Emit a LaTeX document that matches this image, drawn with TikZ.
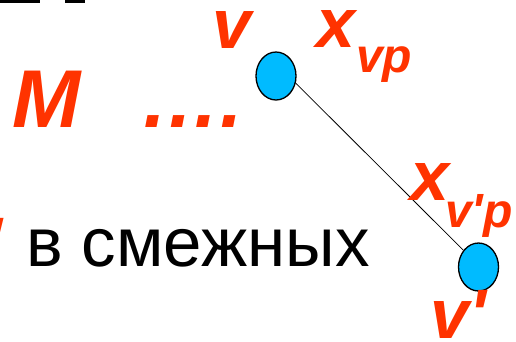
\documentclass[tikz,border=0pt]{standalone}
\usepackage{fontspec}
\setmainfont{Liberation Sans}
\newfontfamily\lblfont{Liberation Sans}
\usetikzlibrary{shapes.geometric}
\definecolor{lblred}{RGB}{255,51,0}
\definecolor{nodeblue}{RGB}{0,187,255}
\begin{document}
\begin{tikzpicture}[x=1pt,y=-1pt,
  vert/.style={draw=black,line width=1.3pt,fill=nodeblue,ellipse,minimum width=40pt,minimum height=48pt,inner sep=0pt},
  lbl/.style={text=lblred,inner sep=0pt,anchor=base west},
  edge/.style={draw=black,line width=0.8pt}]
\useasboundingbox (0,0) rectangle (516,341);
\clip (0,0) rectangle (516,341);
\fill[black] (0,0) rectangle (40,2.5);
\fill[black] (65,0) rectangle (85,2.5);
\node[vert] (v) at (276,76) {};
\node[vert] (vp) at (478.5,267) {};
\draw[edge] (v.-20) -- (vp.132);
\node[lbl,font=\fontsize{70}{70}\lblfont\bfseries\itshape\selectfont] (lv) at (212,48) {v};
\node[lbl,font=\fontsize{70}{70}\lblfont\bfseries\itshape\selectfont] (lx1) at (316,47) {x};
\node[lbl,font=\fontsize{48}{48}\lblfont\bfseries\itshape\selectfont] (ls1) at (356,72) {vp};
\node[lbl,font=\fontsize{82}{82}\lblfont\bfseries\itshape\selectfont] (lM) at (12,127) {M};
\node[lbl,font=\fontsize{80}{80}\lblfont\bfseries\itshape\selectfont] (ldots) at (140,127) {….};
\node[lbl,font=\fontsize{70}{70}\lblfont\bfseries\itshape\selectfont] (lx2) at (410,200) {x};
\node[lbl,font=\fontsize{48}{48}\lblfont\bfseries\itshape\selectfont] (ls2) at (445,227) {v'p};
\node[lbl,font=\fontsize{70}{70}\lblfont\bfseries\itshape\selectfont] (lvp) at (430,338) {v'};
\node[lbl,anchor=base east,font=\fontsize{70}{70}\lblfont\bfseries\itshape\selectfont] (lvl) at (2,266) {v'};
\node[inner sep=0pt,anchor=base west,font=\fontsize{69}{69}\selectfont] (txt) at (26,266) {в смежных};
\end{tikzpicture}
\end{document}
